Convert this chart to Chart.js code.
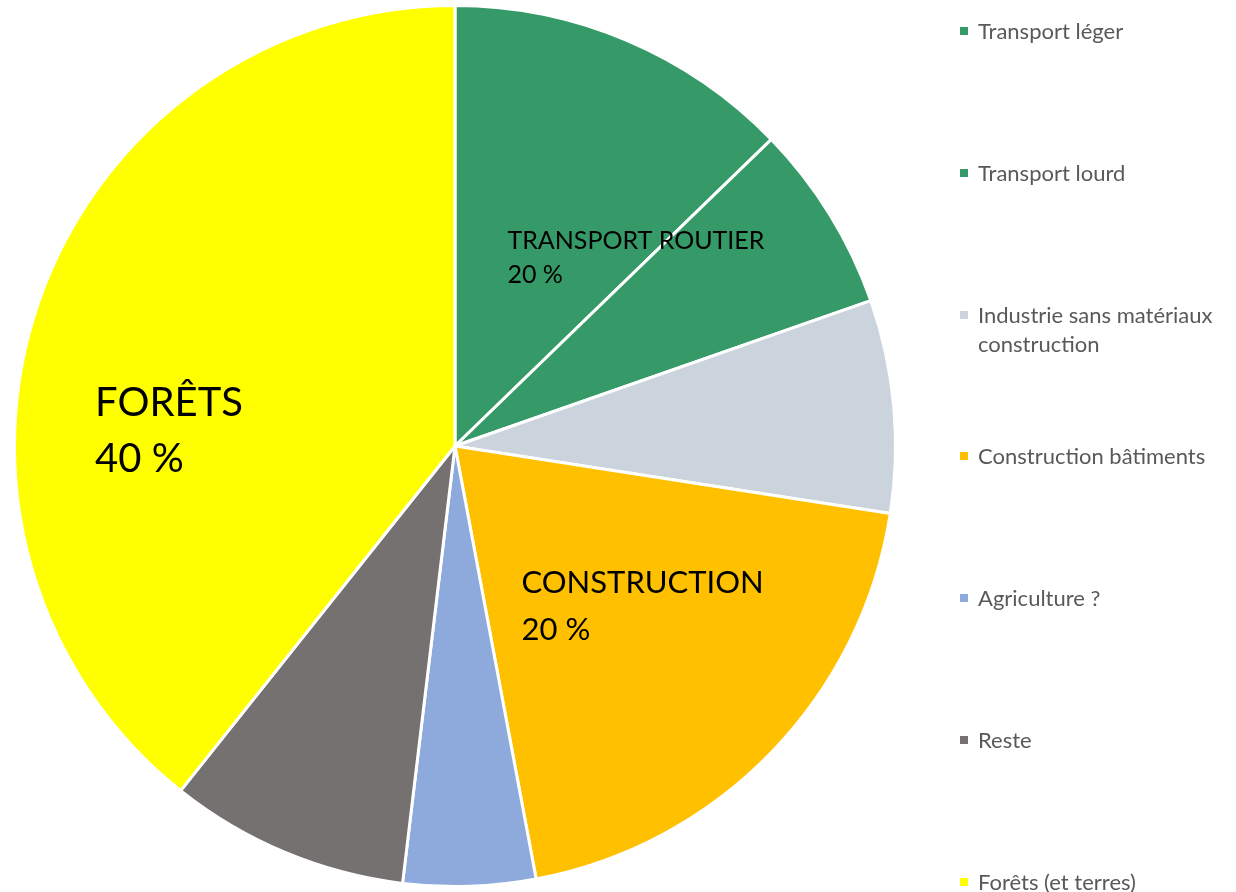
<!DOCTYPE html>
<html lang="fr">
<head>
<meta charset="utf-8">
<script src="https://cdn.jsdelivr.net/npm/chart.js@4"></script>
<style>
  html, body { margin: 0; padding: 0; background: #fff; }
  #wrap { position: relative; width: 1236px; height: 892px; }
  #legende { position: absolute; left: 960px; top: 0; width: 276px; height: 892px;
             font-family: Lato, "Open Sans", sans-serif; font-size: 22px; color: #595959; }
  .item { position: absolute; left: 0; display: flex; align-items: flex-start; line-height: 29px; white-space: nowrap; }
  .carre { width: 8px; height: 8px; margin: 11px 10px 0 0; flex: none; }
</style>
</head>
<body>
<div id="wrap">
  <canvas id="graphique" width="1236" height="892"></canvas>
  <div id="legende"></div>
</div>
<script>
// Répartition par secteur
const categories = ['Transport léger', 'Transport lourd', 'Industrie sans matériaux construction',
                    'Construction bâtiments', 'Agriculture ?', 'Reste', 'Forêts (et terres)'];
const legendeLignes = [['Transport léger'], ['Transport lourd'], ['Industrie sans matériaux', 'construction'],
                       ['Construction bâtiments'], ['Agriculture ?'], ['Reste'], ['Forêts (et terres)']];
const valeurs = [12.75, 6.9, 7.8, 19.6, 4.85, 8.8, 39.3];
const couleurs = ['#359a68', '#359a68', '#cbd3dc', '#ffc000', '#8eaadc', '#767171', '#ffff00'];

// Étiquettes de groupe : texte, taille, interligne, position relative au centre (en fraction du rayon)
const etiquettes = [
    { lignes: ['TRANSPORT ROUTIER', '20 %'], taille: 25, interligne: 34, dx: 0.119, dy: -0.495 },
    { lignes: ['FORÊTS', '40 %'], taille: 40, interligne: 56, dx: -0.817, dy: -0.142 },
    { lignes: ['CONSTRUCTION', '20 %'], taille: 31, interligne: 47, dx: 0.151, dy: 0.275 }
];

const etiquettesPlugin = {
    id: 'etiquettes',
    afterDatasetsDraw(chart) {
        const arc = chart.getDatasetMeta(0).data[0];
        const { x, y, outerRadius } = arc.getProps(['x', 'y', 'outerRadius'], true);
        const ctx = chart.ctx;
        ctx.save();
        ctx.fillStyle = '#000';
        ctx.textBaseline = 'top';
        ctx.textAlign = 'left';
        etiquettes.forEach(e => {
            ctx.font = `${e.taille}px Lato, "Open Sans", sans-serif`;
            e.lignes.forEach((l, i) => {
                ctx.fillText(l, x + e.dx * outerRadius, y + e.dy * outerRadius + i * e.interligne);
            });
        });
        ctx.restore();
    }
};

new Chart(document.getElementById('graphique'), {
    type: 'pie',
    data: {
        labels: categories,
        datasets: [{
            data: valeurs,
            backgroundColor: couleurs,
            borderColor: '#ffffff',
            borderWidth: 3
        }]
    },
    options: {
        responsive: false,
        animation: false,
        layout: { padding: { left: 13, right: 339, top: 4, bottom: 4 } },
        plugins: {
            legend: { display: false },
            tooltip: { enabled: false }
        }
    },
    plugins: [etiquettesPlugin]
});

// Légende à droite
const legende = document.getElementById('legende');
const pasY = 141.8;
legendeLignes.forEach((lignes, i) => {
    const div = document.createElement('div');
    div.className = 'item';
    div.style.top = (16 + i * pasY) + 'px';
    div.innerHTML = `<span class="carre" style="background:${couleurs[i]}"></span><span>${lignes.join('<br>')}</span>`;
    legende.appendChild(div);
});
</script>
</body>
</html>
